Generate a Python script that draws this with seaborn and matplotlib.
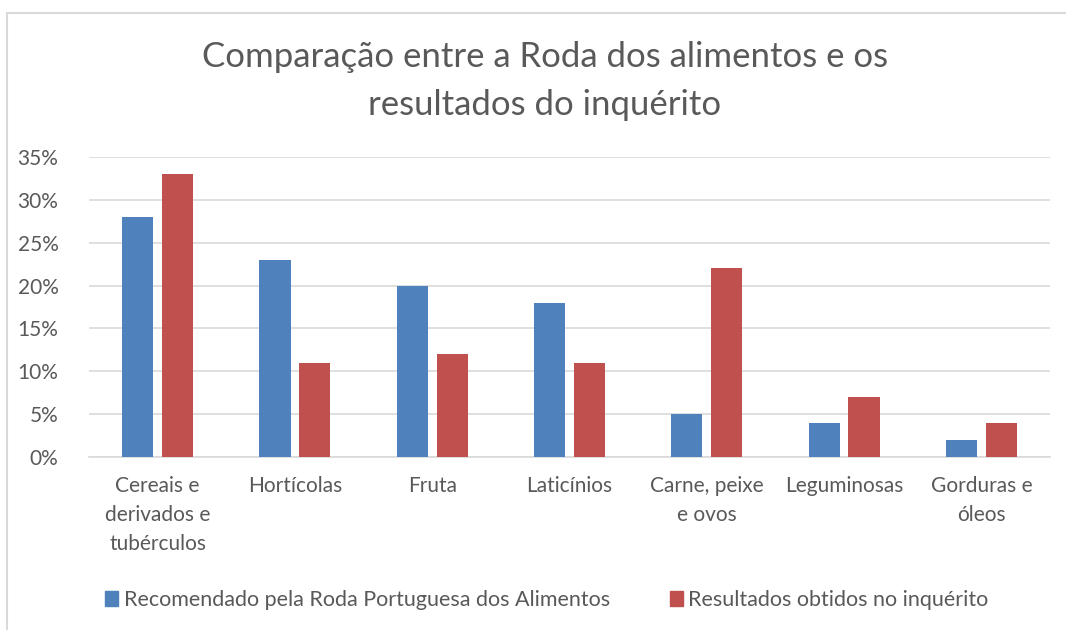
import pandas as pd
import matplotlib.pyplot as plt
import matplotlib.patches as mpatches
import seaborn as sns
from matplotlib.ticker import FuncFormatter

# Data
categorias = ["Cereais e\nderivados e\ntubérculos", "Hortícolas", "Fruta", "Laticínios",
              "Carne, peixe\ne ovos", "Leguminosas", "Gorduras e\nóleos"]
recomendado = [28, 23, 20, 18, 5, 4, 2]
resultados = [33, 11, 12, 11, 22, 7, 4]
series = ["Recomendado pela Roda Portuguesa dos Alimentos", "Resultados obtidos no inquérito"]
cores = ["#4F81BD", "#C0504D"]

df = pd.DataFrame({
    "categoria": categorias * 2,
    "valor": recomendado + resultados,
    "serie": [series[0]] * len(categorias) + [series[1]] * len(categorias),
})

sns.set_style("white")
plt.rcParams['font.family'] = ['Lato', 'DejaVu Sans']
texto = "#595959"

fig = plt.figure(figsize=(10.66, 6.3), dpi=100)
ax = fig.add_axes([89 / 1066, 1 - 457 / 630, (1050 - 89) / 1066, (457 - 157) / 630])

sns.barplot(data=df, x="categoria", y="valor", hue="serie", palette=cores, saturation=1,
            width=0.58, gap=0.22, ax=ax, legend=False, zorder=3, linewidth=0)

ax.set_ylim(0, 35)
ax.set_yticks(range(0, 36, 5))
ax.yaxis.set_major_formatter(FuncFormatter(lambda v, p: f"{int(v)}%"))
ax.grid(axis="y", color="#D9D9D9", linewidth=1.2, zorder=0)
ax.set_axisbelow(True)
for s in ["top", "right", "left"]:
    ax.spines[s].set_visible(False)
ax.spines["bottom"].set_color("#D9D9D9")
ax.spines["bottom"].set_linewidth(1.2)
ax.tick_params(axis="both", length=0, labelsize=15, colors=texto)
ax.tick_params(axis="y", pad=22)
ax.tick_params(axis="x", pad=14)
ax.set_xlabel("")
ax.set_ylabel("")
for lbl in ax.get_xticklabels():
    lbl.set_linespacing(1.55)
    lbl.set_verticalalignment("top")

fig.text(0.511, 1 - 81 / 630, "Comparação entre a Roda dos alimentos e os\nresultados do inquérito",
         ha="center", va="center", fontsize=25, color=texto, linespacing=1.58)

handles = [mpatches.Patch(color=c, label=s) for c, s in zip(cores, series)]
fig.legend(handles=handles, loc="center", bbox_to_anchor=(0.513, 1 - 600 / 630), ncol=2,
           frameon=False, fontsize=15.5, labelcolor=texto, handlelength=0.6, handleheight=0.75,
           handletextpad=0.25, columnspacing=2.8)

# outer chart border
fig.add_artist(mpatches.Rectangle((7 / 1066, -0.05), 1.1, 1 - 13 / 630 + 0.05,
                                  transform=fig.transFigure, fill=False,
                                  edgecolor="#D9D9D9", linewidth=1.5))

fig.savefig("out.png", dpi=100)
